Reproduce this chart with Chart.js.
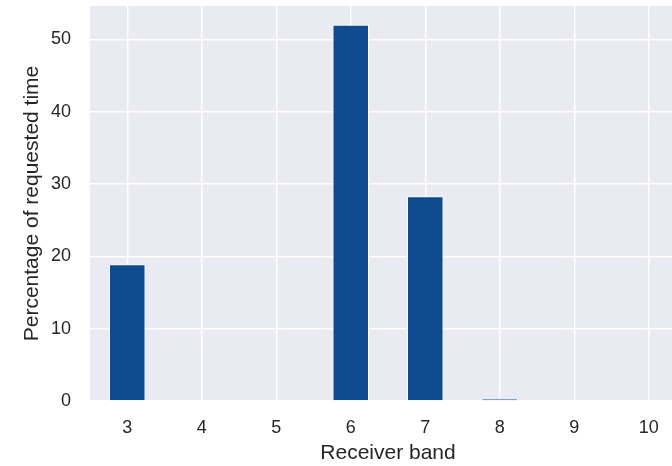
<!DOCTYPE html>
<html>
<head>
<meta charset="utf-8">
<script src="https://cdn.jsdelivr.net/npm/chart.js@4"></script>
<style>
  html, body { margin: 0; padding: 0; background: #fff; overflow: hidden; }
  #wrap { width: 688px; height: 466px; }
</style>
</head>
<body>
<div id="wrap"><canvas id="c" width="688" height="466"></canvas></div>
<script>
// receiver bands and share of requested time (%)
const bands  = ['3', '4', '5', '6', '7', '8', '9', '10'];
const shares = [18.9, 0, 0, 52.0, 28.3, 0.3, 0, 0];
const yTicks = [0, 10, 20, 30, 40, 50];

const FONT = '"Liberation Sans", Arial, sans-serif';
const INK  = '#262626';

/* shaded plot background, seaborn darkgrid look */
const plotBg = {
  id: 'plotBg',
  beforeDraw(chart) {
    const a = chart.chartArea, ctx = chart.ctx;
    ctx.save();
    ctx.fillStyle = '#EAEAF2';
    ctx.fillRect(a.left, a.top, a.right - a.left, a.bottom - a.top);
    ctx.restore();
  }
};

new Chart(document.getElementById('c'), {
  type: 'bar',
  data: {
    labels: bands,
    datasets: [{
      data: shares,
      backgroundColor: '#0F4C8F',
      borderColor: '#ffffff',
      borderWidth: 1,
      categoryPercentage: 1,
      barPercentage: 0.49
    }]
  },
  options: {
    responsive: false,
    animation: false,
    layout: { padding: { top: 6, right: 2, bottom: 0, left: 20 } },
    plugins: { legend: { display: false }, tooltip: { enabled: false } },
    scales: {
      x: {
        offset: true,
        // fixed axis band so the plot bottom lands where the reference has it
        afterFit(scale) { scale.paddingLeft = 0; scale.paddingRight = 0; scale.height = 65; },
        grid: { offset: false, color: '#ffffff', lineWidth: 1.5, drawTicks: false },
        border: { display: false },
        ticks: { color: INK, font: { family: FONT, size: 18 }, padding: 16, maxRotation: 0 },
        title: { display: true, text: 'Receiver band', color: INK,
                 font: { family: FONT, size: 21 }, padding: { top: 0, bottom: 0 } }
      },
      y: {
        min: 0,
        max: 54.6,
        afterBuildTicks(scale) { scale.ticks = yTicks.map(v => ({ value: v })); },
        afterFit(scale) { scale.paddingTop = 0; scale.paddingBottom = 0; scale.width = 70; },
        grid: { color: '#ffffff', lineWidth: 1.5, drawTicks: false },
        border: { display: false },
        ticks: { color: INK, font: { family: FONT, size: 18 }, padding: 19 },
        title: { display: true, text: 'Percentage of requested time', color: INK,
                 font: { family: FONT, size: 21 }, padding: { top: 0, bottom: 0 } }
      }
    }
  },
  plugins: [plotBg]
});
</script>
</body>
</html>
